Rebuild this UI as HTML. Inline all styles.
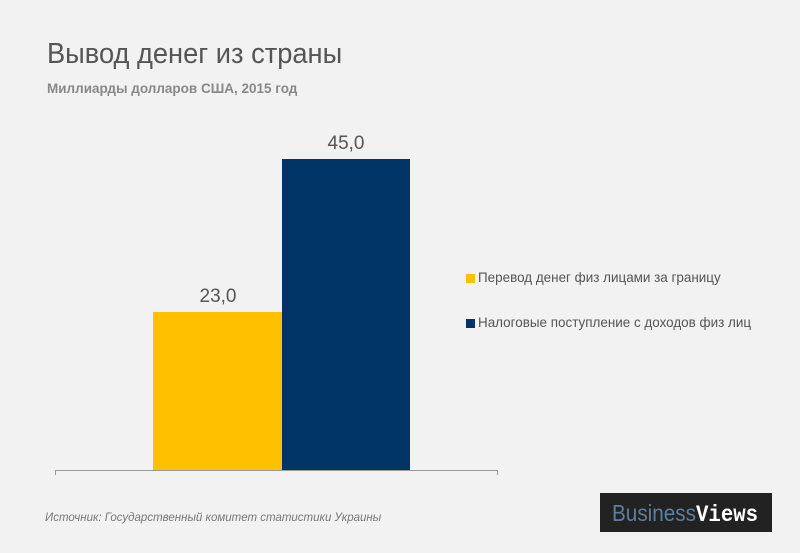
<!DOCTYPE html>
<html><head><meta charset="utf-8"><style>
body{margin:0;width:800px;height:553px;background:#f2f2f2;position:relative;overflow:hidden;font-family:"Liberation Sans",sans-serif}
div{position:absolute;white-space:nowrap}
</style></head><body>
<div style="left:47px;top:38px;font-size:29px;color:#555;transform:scaleX(0.94);transform-origin:left">Вывод денег из страны</div>
<div style="left:47px;top:81px;font-size:13.5px;color:#888;font-weight:bold;transform:scaleX(1);transform-origin:left">Миллиарды долларов США, 2015 год</div>
<div style="left:153px;top:312px;width:130px;height:158px;background:#ffc000"></div>
<div style="left:282px;top:159px;width:128px;height:311px;background:#003366"></div>
<div style="left:153px;top:286px;width:130px;text-align:center;font-size:19px;color:#555">23,0</div>
<div style="left:282px;top:133px;width:128px;text-align:center;font-size:19px;color:#555">45,0</div>
<div style="left:55px;top:470px;width:442px;height:1px;background:#999"></div>
<div style="left:55px;top:470px;width:1px;height:5px;background:#999"></div>
<div style="left:497px;top:470px;width:1px;height:5px;background:#999"></div>
<div style="left:466px;top:274px;width:9px;height:9px;background:#ffc000"></div>
<div style="left:478px;top:269px;font-size:14px;color:#555;transform:scaleX(0.96);transform-origin:left">Перевод денег физ лицами за границу</div>
<div style="left:466px;top:319px;width:9px;height:9px;background:#003366"></div>
<div style="left:478px;top:314px;font-size:14px;color:#555;transform:scaleX(0.96);transform-origin:left">Налоговые поступление с доходов физ лиц</div>
<div style="left:45px;top:512px;font-size:11.5px;color:#777;font-style:italic">Источник:  Государственный комитет статистики Украины</div>
<div style="left:600px;top:493px;width:172px;height:39px;background:#222"></div>
<div style="left:612px;top:500px;font-size:23px;color:#5b7fa0;transform:scaleX(0.9);transform-origin:left">Business<b style="color:#fff;font-family:'Liberation Mono',monospace">Views</b></div>
</body></html>
